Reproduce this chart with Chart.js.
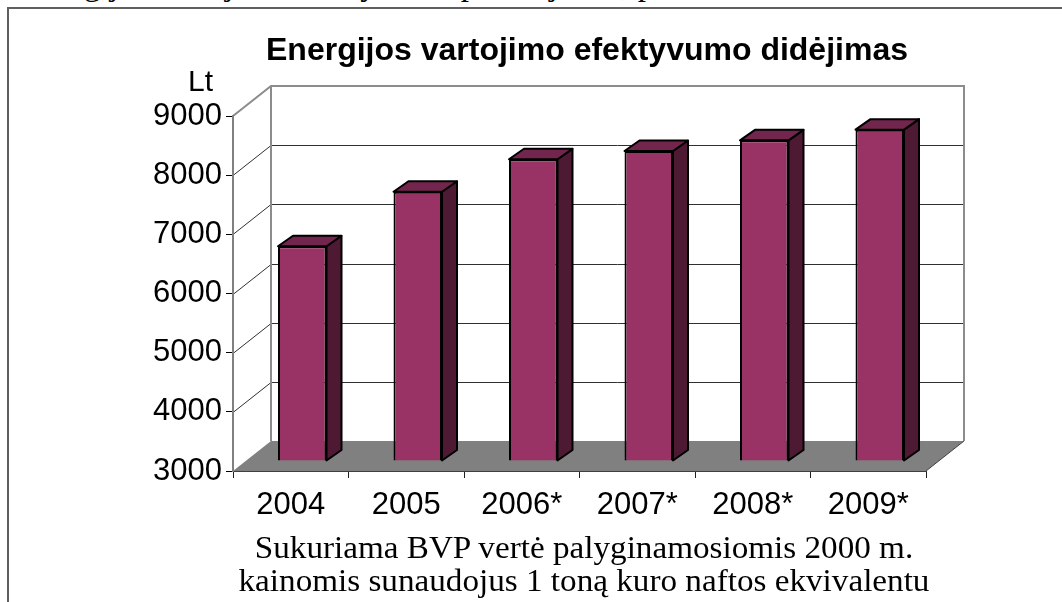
<!DOCTYPE html>
<html>
<head>
<meta charset="utf-8">
<script src="https://cdn.jsdelivr.net/npm/chart.js@4/dist/chart.umd.min.js"></script>
<style>
  body { margin: 0; background: #fff; }
  #wrap { position: relative; width: 1062px; height: 602px; overflow: hidden; }
  #myChart { position: absolute; left: 0; top: 0; }
  #toptext { position: absolute; left: 22px; top: -31px; font: 31px/1 'Liberation Serif', serif; white-space: nowrap; transform: scaleX(1.07); transform-origin: left top; }
  #frame { position: absolute; left: 7px; top: 7px; width: 1200px; height: 700px; border-left: 2px solid #606060; border-top: 2px solid #606060; }
  #title { position: absolute; left: 0; width: 1174px; top: 33px; text-align: center; font: bold 32px/1 'Liberation Sans', Arial, sans-serif; }
  #unit { position: absolute; left: 188px; top: 66px; font: 30px/1 'Liberation Sans', Arial, sans-serif; }
  #caption { position: absolute; left: 0; width: 1168px; top: 531px; text-align: center; font: 31px/33px 'Liberation Serif', serif; transform: scaleX(1.07); transform-origin: 584px 0; }
</style>
</head>
<body>
<div id="wrap">
  <div id="toptext">Energijos vartojimo efektyvumo padidėjimas, proc.</div>
  <div id="frame"></div>
  <canvas id="myChart" width="1062" height="602"></canvas>
  <div id="title">Energijos vartojimo efektyvumo didėjimas</div>
  <div id="unit">Lt</div>
  <div id="caption">Sukuriama BVP vertė palyginamosiomis 2000 m.<br>kainomis sunaudojus 1 toną kuro naftos ekvivalentu</div>
</div>
<script>
  // data
  const years = ['2004', '2005', '2006*', '2007*', '2008*', '2009*'];
  const values = [6630, 7550, 8100, 8240, 8420, 8600];
  const yMin = 3000, yMax = 9000, yStep = 1000;

  // 3d look
  const wall = { dx: 38, dy: -30 };     // back wall / floor depth
  const shift = { dx: 11.5, dy: -10 };  // bars stand a bit behind the front
  const box = { dx: 15, dy: -10.5 };    // depth of one bar
  const frontColor = '#993366';
  const topColor = '#73264D';
  const sideColor = '#4D1933';

  const walls3d = {
    id: 'walls3d',
    beforeDraw(chart) {
      const ctx = chart.ctx;
      const a = chart.chartArea;
      const y = chart.scales.y;
      const L = a.left, R = a.right, T = a.top, B = a.bottom;
      ctx.save();
      // floor
      ctx.fillStyle = '#808080';
      ctx.beginPath();
      ctx.moveTo(L, B);
      ctx.lineTo(R, B);
      ctx.lineTo(R + wall.dx, B + wall.dy);
      ctx.lineTo(L + wall.dx, B + wall.dy);
      ctx.closePath();
      ctx.fill();
      ctx.strokeStyle = '#404040';
      ctx.lineWidth = 1;
      ctx.beginPath();
      ctx.moveTo(R, B);
      ctx.lineTo(R + wall.dx, B + wall.dy);
      ctx.stroke();
      // grid lines on side and back wall
      ctx.strokeStyle = '#303030';
      ctx.beginPath();
      for (let v = yMin + yStep; v < yMax; v += yStep) {
        const py = Math.round(y.getPixelForValue(v)) + 0.5;
        ctx.moveTo(L, py);
        ctx.lineTo(L + wall.dx, py + wall.dy);
        ctx.lineTo(R + wall.dx, py + wall.dy);
      }
      ctx.stroke();
      // wall edges
      ctx.strokeStyle = '#8c8c8c';
      ctx.lineWidth = 2;
      ctx.beginPath();
      ctx.moveTo(L, T);
      ctx.lineTo(L + wall.dx, T + wall.dy);
      ctx.lineTo(R + wall.dx, T + wall.dy);
      ctx.lineTo(R + wall.dx, B + wall.dy);
      ctx.moveTo(L + wall.dx, T + wall.dy);
      ctx.lineTo(L + wall.dx, B + wall.dy);
      ctx.stroke();
      ctx.restore();
    },
    beforeDatasetsDraw(chart) {
      chart.ctx.save();
      chart.ctx.translate(shift.dx, shift.dy);
    },
    afterDatasetsDraw(chart) {
      const ctx = chart.ctx;
      const meta = chart.getDatasetMeta(0);
      ctx.lineWidth = 2;
      ctx.lineJoin = 'round';
      ctx.strokeStyle = '#000';
      meta.data.forEach(bar => {
        const p = bar.getProps(['x', 'y', 'base', 'width'], true);
        const l = p.x - p.width / 2, r = p.x + p.width / 2;
        // side
        ctx.fillStyle = sideColor;
        ctx.beginPath();
        ctx.moveTo(r, p.y);
        ctx.lineTo(r + box.dx, p.y + box.dy);
        ctx.lineTo(r + box.dx, p.base + box.dy);
        ctx.lineTo(r, p.base);
        ctx.closePath();
        ctx.fill();
        ctx.stroke();
        // top
        ctx.fillStyle = topColor;
        ctx.beginPath();
        ctx.moveTo(l, p.y);
        ctx.lineTo(r, p.y);
        ctx.lineTo(r + box.dx, p.y + box.dy);
        ctx.lineTo(l + box.dx, p.y + box.dy);
        ctx.closePath();
        ctx.fill();
        ctx.stroke();
      });
      ctx.restore();
    }
  };

  const data = {
    labels: years,
    datasets: [{
      data: values,
      base: yMin,
      backgroundColor: frontColor,
      borderColor: '#000',
      borderWidth: 2,
      categoryPercentage: 1,
      barPercentage: 0.42,
      clip: false
    }]
  };

  const config = {
    type: 'bar',
    data: data,
    plugins: [walls3d],
    options: {
      responsive: false,
      animation: false,
      events: [],
      layout: { padding: { left: 0, right: 136, top: 116, bottom: 0 } },
      plugins: { legend: { display: false }, tooltip: { enabled: false }, title: { display: false } },
      scales: {
        x: {
          afterFit(s) { s.height = 131; },
          grid: { drawOnChartArea: false, drawTicks: true, tickLength: 7, color: '#202020' },
          border: { display: true, color: '#404040', width: 1 },
          ticks: { color: '#000', padding: 9, font: { family: 'Liberation Sans', size: 31 } }
        },
        y: {
          min: yMin,
          max: yMax,
          afterFit(s) { s.width = 233; },
          grid: { drawOnChartArea: false, drawTicks: true, tickLength: 7, color: '#000' },
          border: { display: true, color: '#808080', width: 2 },
          ticks: {
            stepSize: yStep, color: '#000', padding: 4,
            font: { family: 'Liberation Sans', size: 31 },
            callback: v => String(v)
          }
        }
      }
    }
  };

  const myChart = new Chart(document.getElementById('myChart'), config);
</script>
</body>
</html>
